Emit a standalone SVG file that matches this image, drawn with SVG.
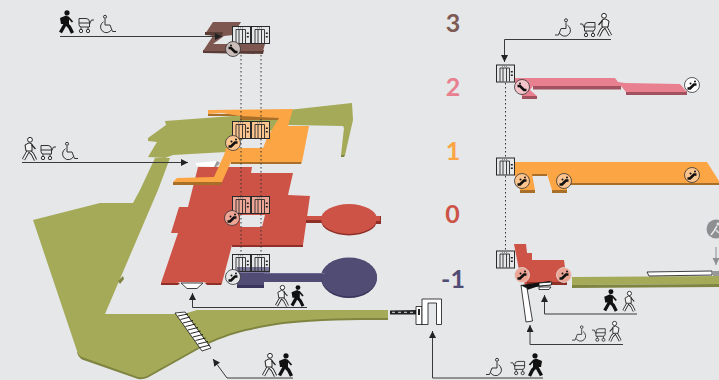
<svg xmlns="http://www.w3.org/2000/svg" xmlns:xlink="http://www.w3.org/1999/xlink" width="719" height="380" viewBox="0 0 719 380">
<style>
.gr{fill:#a4aa58}.grd{fill:#7f8540}
.or{fill:#fba544}.ord{fill:#a86f28}
.rd{fill:#cd5347}.rdd{fill:#8e2f28}
.nv{fill:#514c74}.nvd{fill:#38345a}
.pk{fill:#e8808f}.pkd{fill:#a2525f}
.br{fill:#7d5750}.brd{fill:#5a3c37}
.lv{font-family:Lato,"Open Sans",sans-serif;font-weight:700;font-size:25px;text-anchor:middle}
.ln{fill:none;stroke:#3a3a3c;stroke-width:1}
.dot{fill:none;stroke:#333;stroke-width:1;stroke-dasharray:1.5 2.5}
.w{fill:#fff;stroke:#111;stroke-width:.8}
</style>
<defs>
<marker id="ah" markerWidth="8" markerHeight="8" refX="7" refY="3.5" orient="auto" markerUnits="userSpaceOnUse"><path d="M0 0L7 3.5L0 7Z" fill="#222"/></marker>
<marker id="ahg" markerWidth="8" markerHeight="8" refX="7" refY="3.5" orient="auto" markerUnits="userSpaceOnUse"><path d="M0 0L7 3.5L0 7Z" fill="#8d8f92"/></marker>
<symbol id="lift" viewBox="0 0 19 18" overflow="visible">
<rect x=".5" y=".5" width="18" height="17" fill="none" stroke="#2a2a2a"/>
<path d="M4 17V3.5H13.5V17M7 3.5V17M10.5 3.5V17" fill="none" stroke="#2a2a2a" stroke-width=".9"/>
<path d="M6 1.8H11" stroke="#777" stroke-width="1" stroke-dasharray="1 1"/>
<path d="M15.8 6.500v1.600M15.800 10v1.600" stroke="#222" stroke-width="2"/>
</symbol>
<symbol id="stU" viewBox="-8 -8 16 16" overflow="visible">
<path d="M-4.500 3.500L-2 3.500L2 -0.500L4.500 -0.500" fill="none" stroke="#111" stroke-width="2.600"/>
<circle cx="-1.500" cy="-1.500" r="1" fill="#111"/><circle cx="3" cy="-3.500" r="1" fill="#111"/>
</symbol>
<symbol id="stD" viewBox="-8 -8 16 16" overflow="visible">
<path d="M-4.500 -1L-2 -1L2 3L4.500 3" fill="none" stroke="#111" stroke-width="2.600"/>
<circle cx="-2" cy="-3.500" r="1" fill="#111"/>
</symbol>
<symbol id="walkB" viewBox="0 0 15 24" overflow="visible">
<circle cx="8" cy="2.800" r="2.600" fill="#111"/>
<path d="M7.500 7L6.500 13.500L1.500 22.500M6.500 13L10.500 17L13.500 23" fill="none" stroke="#111" stroke-width="3.400"/>
<path d="M1 8L7 5.500L10 7L10 14L2 14Z" fill="#111"/>
<path d="M9 7L13.500 12" stroke="#111" stroke-width="1.800"/>
</symbol>
<symbol id="walkO" viewBox="0 0 15 24" overflow="visible">
<circle cx="8" cy="2.800" r="2.400" fill="#fff" stroke="#222" stroke-width="1"/>
<path d="M7.500 7L6.500 13.500L1.500 22.500M6.500 13L10.500 17L13.500 23" fill="none" stroke="#222" stroke-width="3.400"/>
<path d="M7.500 7L6.500 13.500L1.500 22.500M6.500 13L10.500 17L13.500 23" fill="none" stroke="#f2f2f2" stroke-width="1.600"/>
<path d="M3 8L7 5.800L10 7L10 14L4 14Z" fill="#f2f2f2" stroke="#222" stroke-width="1"/>
<path d="M9.500 7.500L13.500 12" stroke="#222" stroke-width="1.200"/>
</symbol>
<symbol id="pram" viewBox="0 0 17 16" overflow="visible">
<path d="M2 1.500H9A3.500 3.500 0 0 1 12.500 5V10H4.500A2.500 2.500 0 0 1 2 7.500ZM2 6H12.500M12.500 7L14.500 3H17M4 10V12.500M11 10V12.500" fill="none" stroke="#333" stroke-width="1"/>
<circle cx="4" cy="14" r="1.700" fill="none" stroke="#333"/><circle cx="11" cy="14" r="1.700" fill="none" stroke="#333"/>
</symbol>
<symbol id="chair" viewBox="0 0 17 18" overflow="visible">
<circle cx="6" cy="1.800" r="1.500" fill="none" stroke="#333"/>
<path d="M6 4V10H11L13.500 16.500H17" fill="none" stroke="#333"/>
<path d="M4.500 6.800A5.800 5.800 0 1 0 12.500 14.500" fill="none" stroke="#333"/>
</symbol>
</defs>
<rect width="719" height="380" fill="#e6e7e9"/>

<g id="plan-ground">
<path class="grd" d="M77 352Q78 357 82 359.500L138 379Q143 380 148 377.500L197 350C215 340 235 331 283 324C320 320 350 320 388 320L388 316L283 319Z"/>
<path class="gr" d="M170 158L155 158L140 190L133 203L100 203L33 220L77 351Q78 355 82 357L138 377Q143 378 147 376L197 348C215 338 235 329 283 322C320 318 350 318 388 318L388 310L197 310L187 313L173 314L105 314L158 190Z"/>
<path class="grd" d="M118 281L123 276L124 279L120 284Z"/>
<path class="gr" d="M148 138L166 125L165 121L233 116L352 103L353 120L345 155L341 155L344 128L343 126L289 125L241 140L226 152L173 155L165 158L148 157L157 142L148 141Z"/>
<path class="grd" d="M341 155H345L344 157H341Z"/>
</g>
<g id="floor-3">
<path class="brd" d="M203 50L264 50L263 54L203 53Z"/>
<path class="br" d="M213 22L241 22L233 35L224 36L213 44L265 44L263 51L203 51L213 36L205 34Z"/>
<path class="brd" d="M205 32L223 32L222 36L205 35Z"/>
</g>
<g id="floor-0">
<path class="rdd" d="M161 283L222 283L221 285L207 285L205 283L180 283L178 285L161 285ZM232 245L303 245L303 247L232 247Z"/>
<path class="rd" fill-rule="evenodd" d="M198 167L252 167L251 173L293 173L288 195L310 196L303 245L232 245L222 283L207 283L203 282L180 282L177 283L161 283L178 233L171 233L179 207L188 207ZM240 215L265 215L262 227L240 227Z"/>
<path class="w" d="M181 283L203 283L197 288.500L187 288.500Z"/>
<path class="rdd" d="M306 220H322V223H306Z"/>
<path class="rd" d="M306 216H325V220H306Z"/>
<ellipse cx="349" cy="220.500" rx="28" ry="15" class="rdd"/>
<ellipse cx="349" cy="219" rx="28" ry="15" class="rd"/>
<path class="rdd" d="M376 216H381V224H376Z"/><path class="rd" d="M375 216H380V221H375Z"/>
</g>
<g id="floor-minus-1">
<path class="nvd" d="M237 285H264V288H237Z"/>
<path class="nv" d="M237 273H264V285H237Z"/>
<path class="nv" d="M264 274H325V282H264Z"/>
<ellipse cx="349" cy="278" rx="28" ry="20" class="nvd"/>
<ellipse cx="349" cy="277" rx="28" ry="19.500" class="nv"/>
<path fill="#6b6790" d="M264 273H325V274H264Z"/>
</g>
<g id="floor-1">
<path class="ord" d="M173 182L222 182L221 185L173 185ZM231 161L302 161L301 164L231 164ZM208 114L240 114L241 116L219 116L208 116ZM240 116L279 116L279 120L240 120Z"/>
<path class="or" d="M208 110L293 109L288 126L309 126L302 162L231 162L222 182L173 182L177 178L214 177L224 155L226 148L263 148L267 138L274 126L279 118L240 116L222 113L208 114Z"/>
<path fill="#fff" d="M195 163L217 161L214 167L197 166Z"/>
<path fill="#999" d="M217 161L220 163L216 167L214 167Z"/>
</g>

<g id="section-2">
<path class="pkd" d="M533 86H621L621 89.500H533ZM626 91H687V95H626ZM522 96H537V99H522Z"/>
<path class="pk" d="M515 78L615 78L618 82L625 83L680 84L687 92L626 92L621 86L533 86L530 90L537 96L522 96L515 85Z"/>
</g>
<g id="section-1">
<path class="ord" d="M568 183H719V185H568ZM532 173H547V176H532ZM520 189H535V193H520ZM552 189H567V193H552Z"/>
<path class="or" d="M515 162L707 162L719 181L719 183L567 183L567 190L552 190L547 174L532 174L535 190L520 190L515 176Z"/>
</g>
<g id="section-0">
<path class="rd" d="M514 244L526 244L527 253L532 253L532 260L564 260L567 284L525 285L519 270Z"/>
<path class="rdd" d="M527 282H567L567 285H527Z"/>
<path d="M521 285L536 283L550 281L552 285L536 287L527 290Z" fill="#111"/>
<path fill="#fff" stroke="#111" stroke-width=".8" d="M521 285L527 288L532.500 321L526 322Z"/>
<path fill="#fff" stroke="#111" stroke-width=".8" d="M539 283L552 282L551 285L539 286Z"/>
<path fill="#fff" stroke="#111" stroke-width=".8" d="M539 287L551 287L549 289.500L539 289.500Z"/>
</g>
<g id="section-ground">
<path class="gr" d="M572 277L719 276V284L572 285Z"/>
<path class="grd" d="M572 285L719 284V287L572 288Z"/>
<path class="w" d="M647 272L712 271L712 275L649 276Z"/>
<path fill="#999" d="M713 271H719V276H713Z"/>
</g>

<g id="stairs">
<path class="w" d="M175 313L185 312L211 348L202 351Z"/>
<path d="M178 316L188 314M180.500 319.500L190 317M183 323L193 320.500M185.500 326.500L195.500 324M188 330L198 327.500M190.500 333.500L200.500 331M193 337L203 334.500M195.500 340.500L205.500 338M198 344L208 341.500M200 347.500L210 345" stroke="#111" stroke-width=".9" fill="none"/>
</g>
<g id="entrance-gate">
<path d="M390 310.500L416 310V314.500H390Z" fill="#222"/>
<path d="M392 312.300H414" stroke="#ddd" stroke-width="1" stroke-dasharray="3 3"/>
<path class="w" d="M416 306.500H422V324.500H416Z"/>
<path d="M418 309H420V315H418Z" fill="#222"/>
<path class="w" d="M422 324.500V299H441.500V324.500H436.500V303H428V324.500Z"/>
</g>

<g id="connectors">
<path class="dot" d="M241 55V121M261 55V121M241 139V196M261 139V196M241 214V254M261 214V254"/>
<path class="dot" d="M505.500 83V157M505.500 176V250"/>
<path class="ln" d="M60 36.500H222" marker-end="url(#ah)"/>
<path class="ln" d="M22 162.500H188" marker-end="url(#ah)"/>
<path class="ln" d="M307 307.500H192.500V293" marker-end="url(#ah)"/>
<path class="ln" d="M293 378H227L213 359" marker-end="url(#ah)"/>
<path class="ln" d="M611 39.500H504.500V62" marker-end="url(#ah)"/>
<path class="ln" d="M637 314H544.500V295" marker-end="url(#ah)"/>
<path class="ln" d="M623 344.500H530V325" marker-end="url(#ah)"/>
<path class="ln" d="M543 378H432.500V331" marker-end="url(#ah)"/>
<path d="M716 247V265" fill="none" stroke="#8d8f92" marker-end="url(#ahg)"/>
</g>

<g id="lifts-3"><rect x="233" y="27" width="37" height="17" fill="#e6e7e9"/><use href="#lift" x="232" y="26" width="19" height="18"/><use href="#lift" x="251" y="26" width="19" height="18"/></g>
<g id="lifts-1"><rect x="233" y="122" width="37" height="16" fill="#fcc48f"/><use href="#lift" x="232" y="121" width="19" height="18"/><use href="#lift" x="251" y="121" width="19" height="18"/></g>
<g id="lifts-0"><rect x="233" y="197" width="37" height="16" fill="#eda696"/><use href="#lift" x="232" y="196" width="19" height="18"/><use href="#lift" x="251" y="196" width="19" height="18"/></g>
<g id="lifts-m1"><rect x="237" y="267" width="33" height="6" fill="#7a7699"/><use href="#lift" x="232" y="254" width="19" height="18"/><use href="#lift" x="251" y="254" width="19" height="18"/></g>
<g id="lift-s2"><use href="#lift" x="496" y="64" width="19" height="19"/></g>
<g id="lift-s1"><use href="#lift" x="496" y="157" width="19" height="19"/></g>
<g id="lift-s0"><use href="#lift" x="496" y="250" width="19" height="19"/></g>

<g id="escalators" stroke-width=".8">
<circle cx="233" cy="49" r="7.500" fill="#c9bcb9" stroke="#333"/><use href="#stD" x="225" y="41" width="16" height="16"/>
<circle cx="233" cy="143" r="7.500" fill="#fcc48f" stroke="#333"/><use href="#stU" x="225" y="135" width="16" height="16"/>
<circle cx="232" cy="218" r="7.500" fill="#eda696" stroke="#333"/><use href="#stU" x="224" y="210" width="16" height="16"/>
<circle cx="233" cy="277" r="7.500" fill="#e6e7e9" stroke="#333"/><use href="#stU" x="225" y="269" width="16" height="16"/>
<circle cx="522" cy="87" r="7.500" fill="#f3c4ca" stroke="#333"/><use href="#stD" x="514" y="79" width="16" height="16"/>
<circle cx="692" cy="85" r="7.500" fill="#fff" stroke="#333"/><use href="#stU" x="684" y="77" width="16" height="16"/>
<circle cx="522" cy="181" r="7.500" fill="#fcc48f" stroke="#333"/><use href="#stU" x="514" y="173" width="16" height="16"/>
<circle cx="564" cy="181" r="7.500" fill="#fcc48f" stroke="#333"/><use href="#stU" x="556" y="173" width="16" height="16"/>
<circle cx="692" cy="175" r="7.500" fill="#fcc48f" stroke="#333"/><use href="#stU" x="684" y="167" width="16" height="16"/>
<circle cx="522" cy="275" r="7.500" fill="#eda696" stroke="#ddd"/><use href="#stU" x="514" y="267" width="16" height="16"/>
<circle cx="564" cy="275" r="7.500" fill="#eda696" stroke="#ddd"/><use href="#stU" x="556" y="267" width="16" height="16"/>
</g>

<g id="emergency-exit">
<circle cx="716" cy="229" r="9.500" fill="#8d8f92"/>
<circle cx="718" cy="224" r="1.500" fill="#e6e7e9"/>
<path d="M717 226L714 231L711 235M716 230L719 233" stroke="#e6e7e9" stroke-width="1.500" fill="none"/>
</g>

<g id="icons-1">
<use href="#walkB" x="59" y="10" width="15" height="24"/><use href="#pram" x="77" y="17" width="17" height="16"/><use href="#chair" x="99" y="15" width="17" height="18"/>
</g>
<g id="icons-2">
<use href="#walkO" x="22" y="137" width="15" height="24"/><use href="#pram" x="39" y="144" width="17" height="16"/><use href="#chair" x="61" y="142" width="17" height="18"/>
</g>
<g id="icons-3">
<use href="#walkO" x="275" y="285" width="14" height="22"/><use href="#walkB" x="290" y="285" width="15" height="22"/>
</g>
<g id="icons-4">
<use href="#walkO" x="262" y="353" width="15" height="24"/><use href="#walkB" x="278" y="353" width="15" height="24"/>
</g>
<g id="icons-5">
<use href="#chair" transform="translate(572 18) scale(-1 1)" width="17" height="19"/><use href="#pram" transform="translate(597 21) scale(-1 1)" width="17" height="16"/><use href="#walkO" transform="translate(612 13) scale(-1 1)" width="15" height="24"/>
</g>
<g id="icons-6">
<use href="#walkB" x="603" y="289" width="15" height="23"/><use href="#walkO" x="622" y="291" width="14" height="21"/>
</g>
<g id="icons-7">
<use href="#chair" transform="translate(587 325) scale(-1 1)" width="15" height="17"/><use href="#pram" transform="translate(607 327) scale(-1 1)" width="15" height="15"/><use href="#walkO" transform="translate(622 321) scale(-1 1)" width="14" height="21"/>
</g>
<g id="icons-8">
<use href="#chair" transform="translate(503 358) scale(-1 1)" width="17" height="18"/><use href="#pram" transform="translate(527 360) scale(-1 1)" width="17" height="15"/><use href="#walkB" transform="translate(543 353) scale(-1 1)" width="15" height="24"/>
</g>

<g id="levels">
<text class="lv" x="453" y="32" fill="#7d5a54">3</text>
<text class="lv" x="453" y="96" fill="#e8808f">2</text>
<text class="lv" x="453" y="160" fill="#fba544">1</text>
<text class="lv" x="452.500" y="223" fill="#cd5347">0</text>
<text class="lv" x="453" y="288" fill="#514c74">-1</text>
</g>
</svg>
